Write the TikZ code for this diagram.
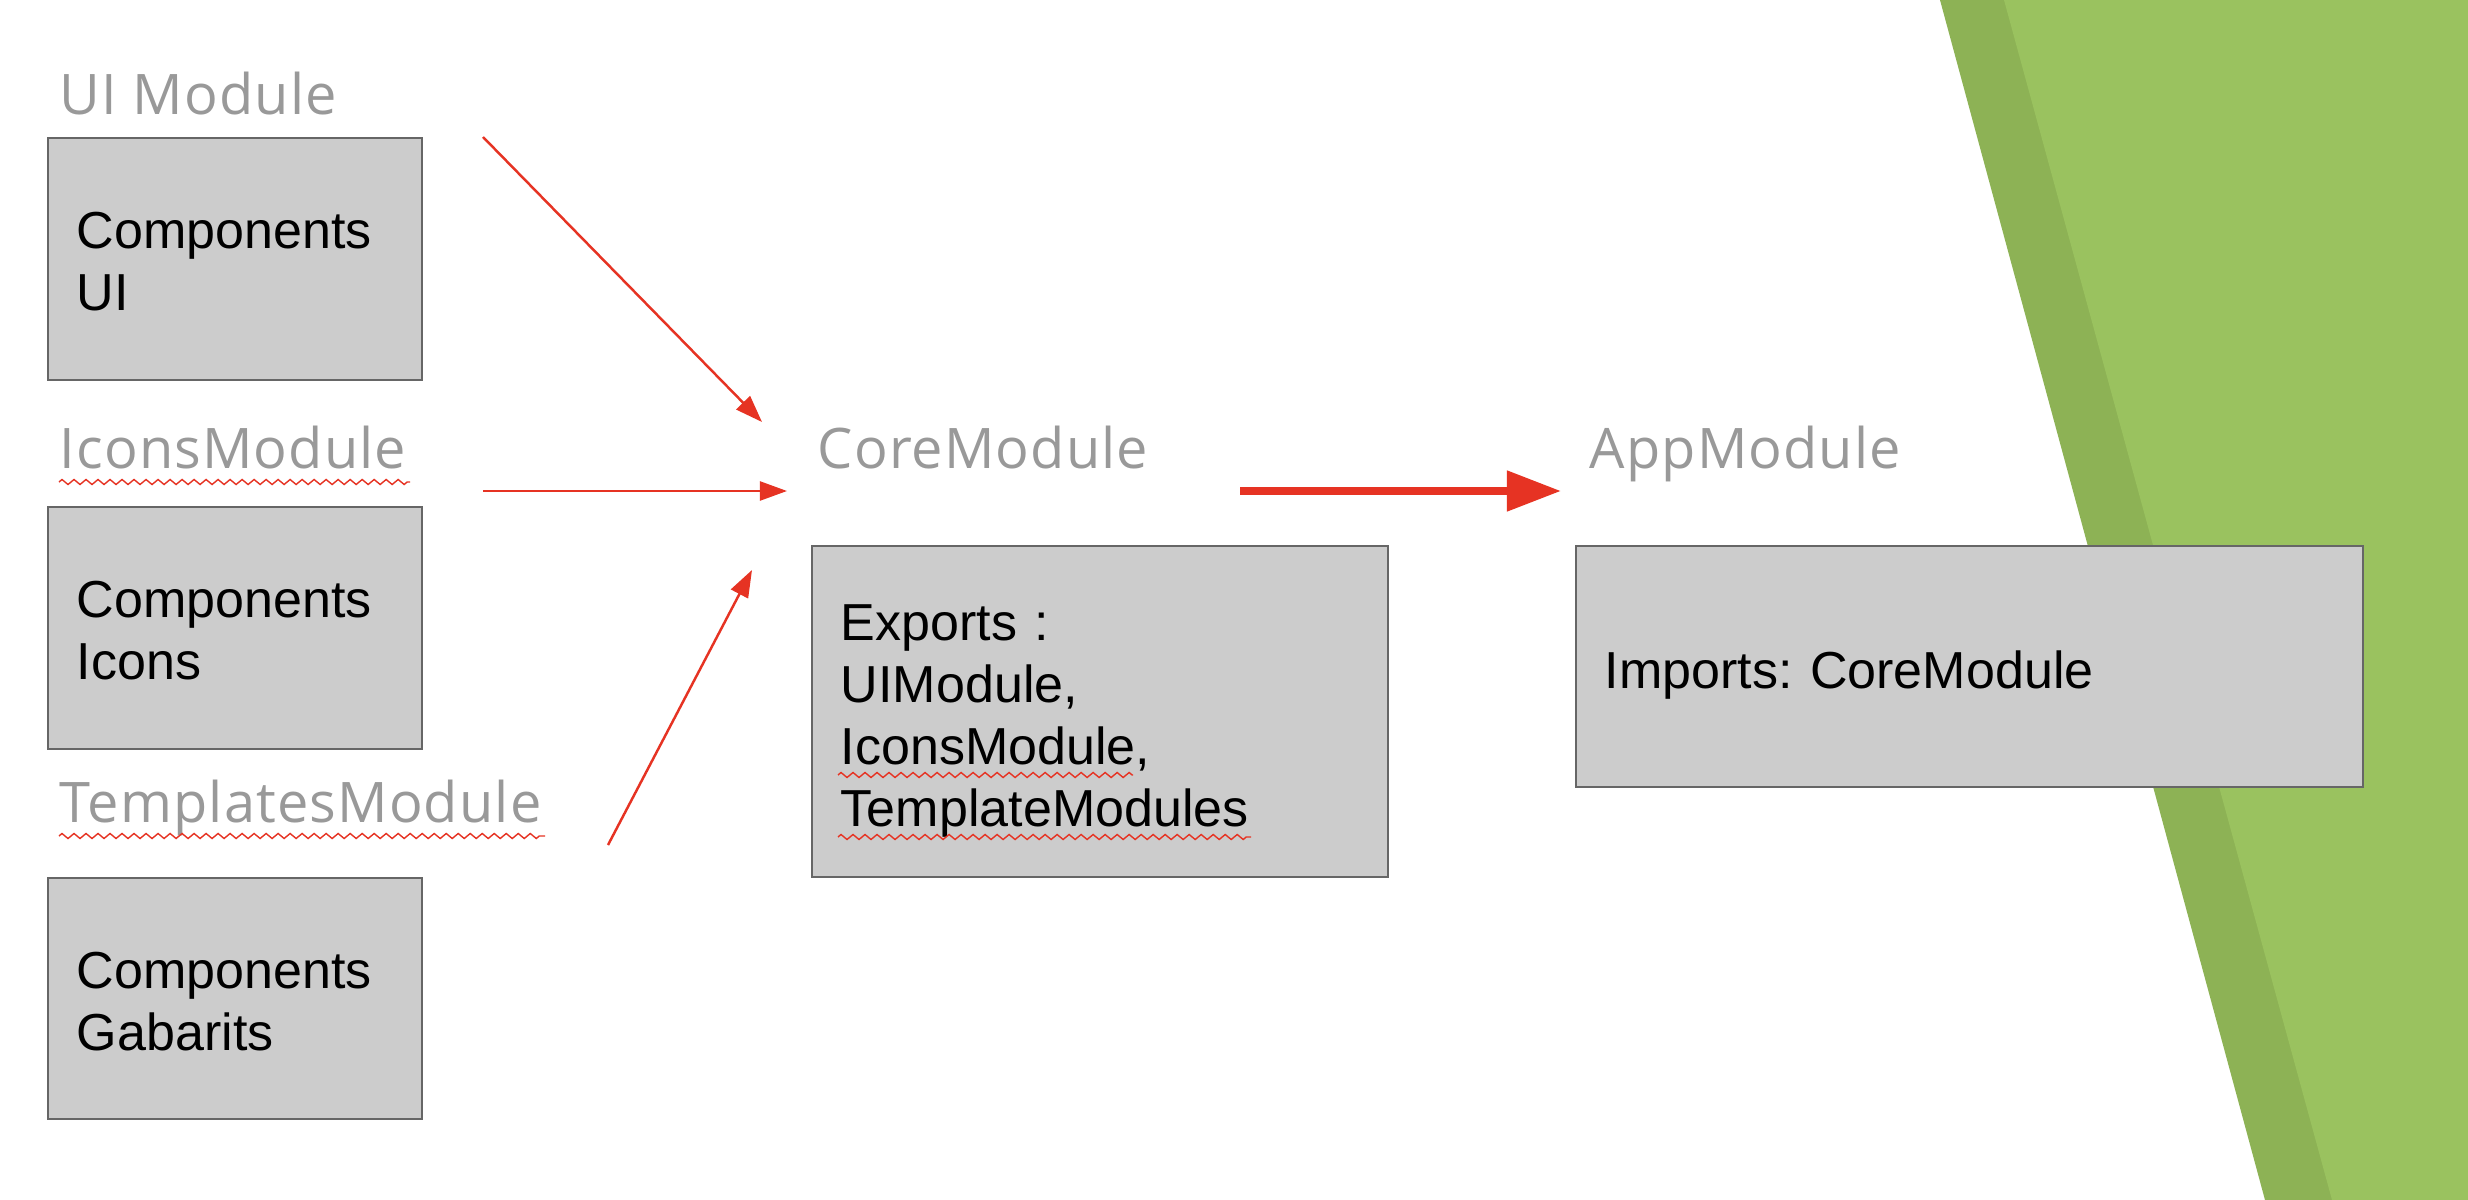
\documentclass[tikz,border=0pt]{standalone}
\usepackage{fontspec}
\setmainfont{Liberation Sans}
\newfontfamily\labelfont[LetterSpace=2]{Open Sans}
\usetikzlibrary{arrows.meta,decorations.pathmorphing}
\definecolor{redarrow}{HTML}{E63323}
\definecolor{labelgray}{HTML}{999999}
\definecolor{boxfill}{HTML}{CCCCCC}
\definecolor{boxline}{HTML}{666666}
\definecolor{greendark}{HTML}{8DB255}
\definecolor{greenlight}{HTML}{9AC25F}
\frenchspacing
\begin{document}
\begin{tikzpicture}[x=0.01cm,y=-0.01cm,
  modbox/.style={draw=boxline, fill=boxfill, line width=0.02cm, inner xsep=0.29cm, inner ysep=0pt, align=left, font=\fontsize{14.8}{17.6}\selectfont},
  topstrut/.style={execute at begin node={\rule{0pt}{#1}}},
  modlabel/.style={text=labelgray, inner sep=0pt, anchor=base west, font=\labelfont\fontsize{15.9}{19}\selectfont},
  thinarrow/.style={draw=redarrow, line width=0.7pt, -{Triangle[length=7.7pt,width=5.4pt]}},
  thickarrow/.style={draw=redarrow, line width=2.3pt, -{Triangle[length=15.4pt,width=11.1pt]}},
  squiggle/.style={draw=redarrow, line width=0.4pt, decorate, decoration={zigzag, segment length=0.12cm, amplitude=0.025cm}}
]
\useasboundingbox (0,0) rectangle (2468,1200);
\fill[white] (0,0) rectangle (2468,1200);
% green decoration
\fill[greendark] (1940,0) -- (2265,1200) -- (2468,1200) -- (2468,0) -- cycle;
\fill[greenlight] (2004,0) -- (2332,1200) -- (2468,1200) -- (2468,0) -- cycle;

% labels
\node[modlabel] (lui) at (59,114) {UI Module};
\node[modlabel] (licons) at (59,468) {IconsModule};
\node[modlabel] (ltpl) at (59,822) {TemplatesModule};
\node[modlabel] (lcore) at (817,468) {CoreModule};
\node[modlabel] (lapp) at (1589,468) {AppModule};

% boxes
\node[modbox, topstrut=12pt, minimum width=3.74cm, minimum height=2.42cm, text width=3.16cm] (bui) at (235,259) {Components\\UI};
\node[modbox, topstrut=12pt, minimum width=3.74cm, minimum height=2.42cm, text width=3.16cm] (bicons) at (235,628) {Components\\Icons};
\node[modbox, topstrut=12pt, minimum width=3.74cm, minimum height=2.41cm, text width=3.16cm] (bgab) at (235,998.5) {Components\\Gabarits};
\node[modbox, topstrut=15.6pt, minimum width=5.76cm, minimum height=3.31cm, text width=5.18cm] (bcore) at (1100,711.5) {Exports :\\UIModule,\\IconsModule,\\TemplateModules};
\node[modbox, topstrut=15.6pt, minimum width=7.87cm, minimum height=2.41cm, text width=7.29cm] (bapp) at (1969.5,666.5) {Imports: CoreModule};

% spell-check underlines
\coordinate (s1a) at (59,482); \coordinate (s1b) at (410,482);
\coordinate (s2a) at (59,836); \coordinate (s2b) at (545,836);
\coordinate (s3a) at (838,775); \coordinate (s3b) at (1133,775);
\coordinate (s4a) at (838,837); \coordinate (s4b) at (1251,837);
\draw[squiggle] (s1a) -- (s1b);
\draw[squiggle] (s2a) -- (s2b);
\draw[squiggle] (s3a) -- (s3b);
\draw[squiggle] (s4a) -- (s4b);

% arrows
\coordinate (a1s) at (483,137); \coordinate (a1e) at (762,422);
\coordinate (a2s) at (483,491); \coordinate (a2e) at (787,491);
\coordinate (a3s) at (608,845); \coordinate (a3e) at (752,570);
\coordinate (a4s) at (1240,491); \coordinate (a4e) at (1561,491);
\draw[thinarrow] (a1s) -- (a1e);
\draw[thinarrow] (a2s) -- (a2e);
\draw[thinarrow] (a3s) -- (a3e);
\draw[thickarrow] (a4s) -- (a4e);
\end{tikzpicture}
\end{document}
